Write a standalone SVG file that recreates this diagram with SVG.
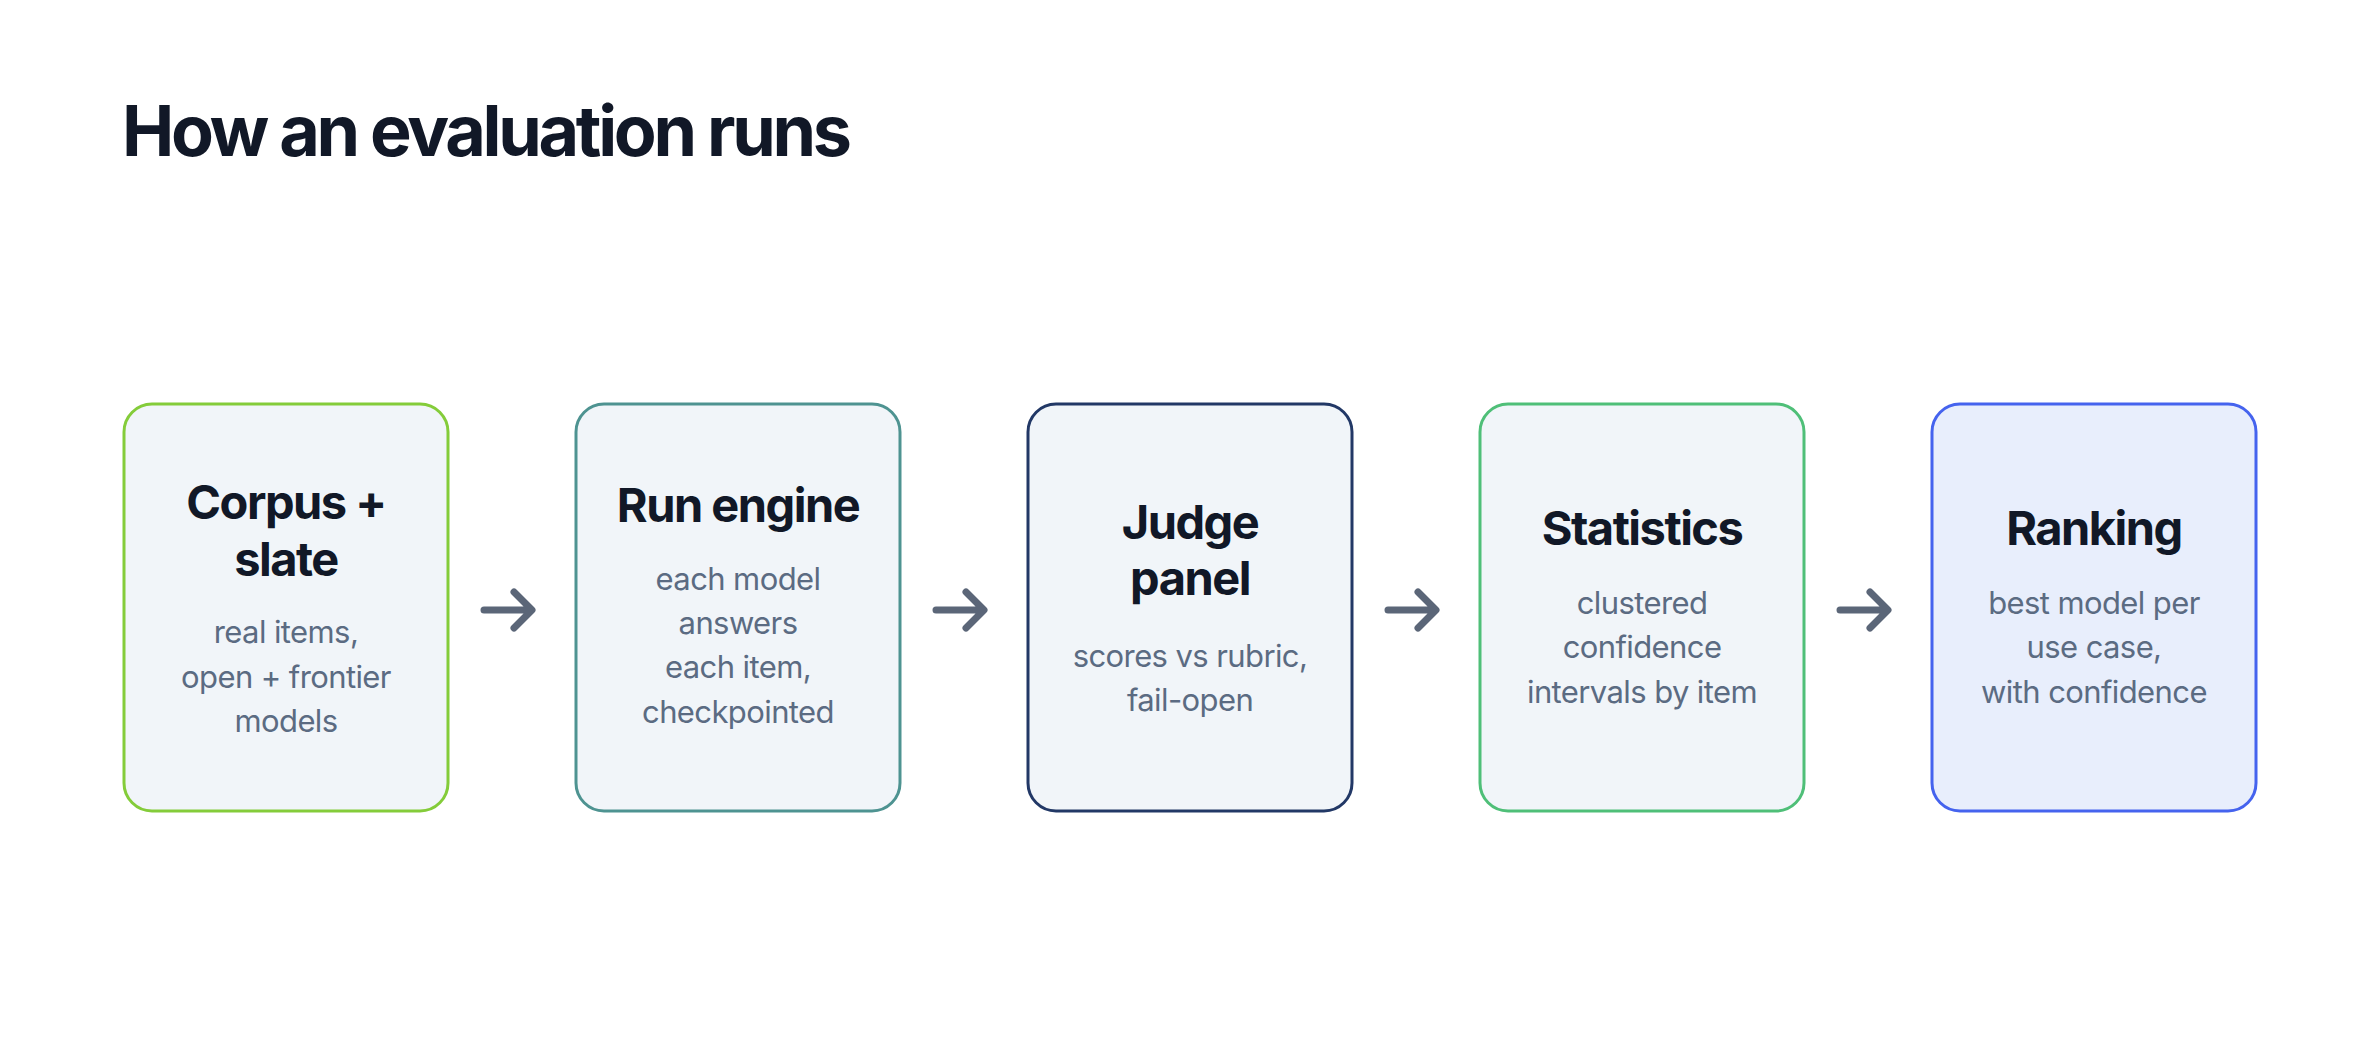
<svg xmlns="http://www.w3.org/2000/svg" width="2372" height="1048" viewBox="0 0 2372 1048">
<style>
.box{fill:#f1f5f9;stroke-width:3}
.t{font-family:Inter,"Liberation Sans",sans-serif;font-weight:700;font-size:47px;fill:#111827;text-anchor:middle;letter-spacing:-1.5px}
.s{font-family:Inter,"Liberation Sans",sans-serif;font-size:31px;fill:#5b6b82;text-anchor:middle;letter-spacing:-0.6px}
.a{fill:none;stroke:#5b6678;stroke-width:7;stroke-linecap:round;stroke-linejoin:round}
</style>
<rect width="2372" height="1048" fill="#fff"/>
<text x="122" y="156" font-family="Inter,'Liberation Sans',sans-serif" font-weight="700" font-size="70" fill="#111827" letter-spacing="-3.3">How an evaluation runs</text>
<g id="n1"><rect class="box" x="124" y="404" width="324" height="407" rx="28" stroke="#84cc3a"/>
<text class="t" x="286" y="519">Corpus +</text><text class="t" x="286" y="576">slate</text>
<text class="s" x="286" y="643">real items,</text><text class="s" x="286" y="688">open + frontier</text><text class="s" x="286" y="732">models</text></g>
<g id="n2"><rect class="box" x="576" y="404" width="324" height="407" rx="28" stroke="#4e9391"/>
<text class="t" x="738" y="522">Run engine</text>
<text class="s" x="738" y="590">each model</text><text class="s" x="738" y="634">answers</text><text class="s" x="738" y="678">each item,</text><text class="s" x="738" y="723">checkpointed</text></g>
<g id="n3"><rect class="box" x="1028" y="404" width="324" height="407" rx="28" stroke="#223866"/>
<text class="t" x="1190" y="539">Judge</text><text class="t" x="1190" y="595">panel</text>
<text class="s" x="1190" y="667">scores vs rubric,</text><text class="s" x="1190" y="711">fail-open</text></g>
<g id="n4"><rect class="box" x="1480" y="404" width="324" height="407" rx="28" stroke="#4fbf78"/>
<text class="t" x="1642" y="545">Statistics</text>
<text class="s" x="1642" y="614">clustered</text><text class="s" x="1642" y="658">confidence</text><text class="s" x="1642" y="703">intervals by item</text></g>
<g id="n5"><rect class="box" x="1932" y="404" width="324" height="407" rx="28" stroke="#4563ee" style="fill:#e8eefc"/>
<text class="t" x="2094" y="545">Ranking</text>
<text class="s" x="2094" y="614">best model per</text><text class="s" x="2094" y="658">use case,</text><text class="s" x="2094" y="703">with confidence</text></g>
<g id="connectors">
<path class="a" d="M484 610H530M514 592L532 610L514 628"/>
<path class="a" d="M936 610H982M966 592L984 610L966 628"/>
<path class="a" d="M1388 610H1434M1418 592L1436 610L1418 628"/>
<path class="a" d="M1840 610H1886M1870 592L1888 610L1870 628"/>
</g>
</svg>
